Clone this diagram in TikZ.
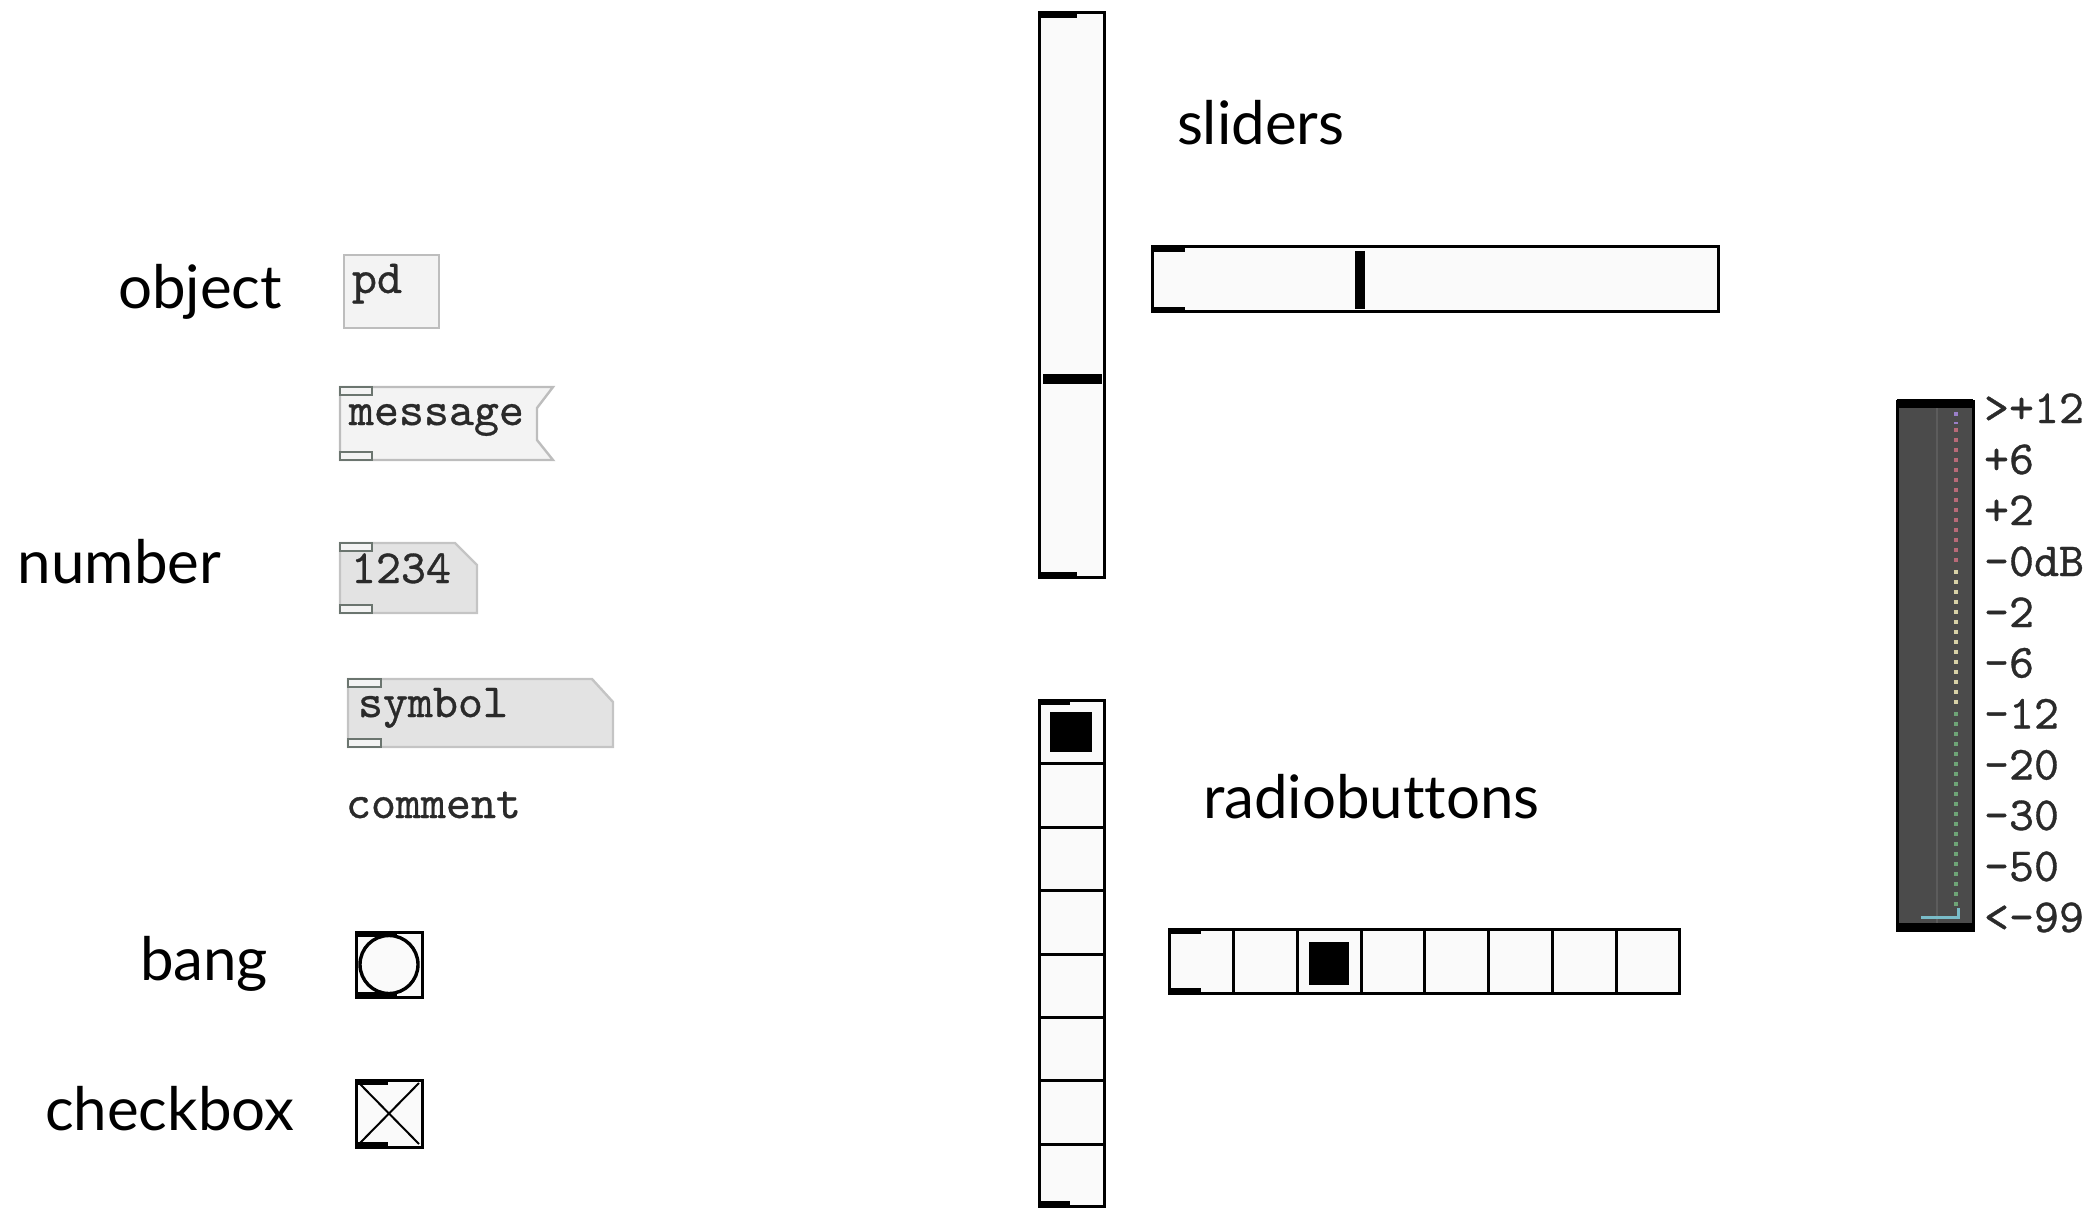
\documentclass[tikz,border=0pt]{standalone}
\usepackage{fontspec}
\newfontfamily\gillish[Ligatures={NoCommon}]{Lato}
\newfontfamily\pdfont[Extension=.otf, FakeBold=0.7]{lmmono10-regular}
\usepackage{xcolor}
\definecolor{objfill}{HTML}{F3F3F3}
\definecolor{objline}{HTML}{BDBDBD}
\definecolor{atomfill}{HTML}{E3E3E3}
\definecolor{atomline}{HTML}{C4C4C4}
\definecolor{ioline}{HTML}{6B756F}
\definecolor{guifill}{HTML}{FAFAFA}
\definecolor{pdink}{HTML}{2A2A2A}
\definecolor{vufill}{HTML}{4B4B4B}
\definecolor{vugrid}{HTML}{5C5C5C}
\definecolor{vupurple}{HTML}{9A7FC8}
\definecolor{vured}{HTML}{B86A78}
\definecolor{vuyellow}{HTML}{D8D2A8}
\definecolor{vugreen}{HTML}{6FA477}
\definecolor{vucyan}{HTML}{79BCC8}

\begin{document}
\begin{tikzpicture}[
    x=0.5pt,
    y=-0.5pt,
    every node/.style={inner sep=0pt, outer sep=0pt},
    caption/.style={font=\gillish\fontsize{30}{36}\selectfont, anchor=base west},
    pdtext/.style={font=\pdfont\fontsize{23.8}{28}\selectfont, text=pdink, anchor=base west},
    objbox/.style={draw=objline, line width=1.2pt, fill=objfill},
    atombox/.style={draw=atomline, line width=1.2pt, fill=atomfill},
    iolet/.style={draw=ioline, line width=1pt, fill=objfill},
    guibox/.style={draw=black, line width=1.5pt, fill=guifill},
    guimark/.style={draw=black, line width=2.6pt},
    handle/.style={draw=black, line width=5pt},
    vudots/.style={line width=2.2pt, dash pattern=on 2pt off 3pt}
]
    \useasboundingbox (0,0) rectangle (2091,1208);

    % captions
    \node[caption] (lobject) at (118,309) {object};
    \node[caption] (lnumber) at (18,583) {number};
    \node[caption] (lbang) at (140,980) {bang};
    \node[caption] (lcheck) at (45,1130) {checkbox};
    \node[caption] (lsliders) at (1177,145) {sliders};
    \node[caption] (lradio) at (1203,818) {radiobuttons};

    % pd boxes
    \draw[objbox] (344,255) rectangle (439,328);
    \node[pdtext] (tpd) at (352,293) {pd};

    \draw[objbox] (340,387) -- (553,387) -- (537,408) -- (537,440) -- (553,460) -- (340,460) -- cycle;
    \draw[iolet] (340,387) rectangle (372,395);
    \draw[iolet] (340,452) rectangle (372,460);
    \node[pdtext] (tmsg) at (349,425) {message};

    \draw[atombox] (340,543) -- (455,543) -- (477,565) -- (477,613) -- (340,613) -- cycle;
    \draw[iolet] (340,543) rectangle (372,551);
    \draw[iolet] (340,605) rectangle (372,613);
    \node[pdtext] (tnum) at (351,583) {1234};

    \draw[atombox] (348,679) -- (592,679) -- (613,702) -- (613,747) -- (348,747) -- cycle;
    \draw[iolet] (348,679) rectangle (381,687);
    \draw[iolet] (348,739) rectangle (381,747);
    \node[pdtext] (tsym) at (358,717) {symbol};

    \node[pdtext] (tcom) at (346,818) {comment};

    % bang and toggle
    \draw[guibox] (356,932) rectangle (422,997);
    \draw[black, line width=1.7pt] (389,964.5) circle (29);
    \draw[guimark] (356,934) -- (397,934) (356,995) -- (397,995);

    \draw[guibox] (356,1080) rectangle (422,1147);
    \draw[black, line width=1pt] (359,1083) -- (419,1144) (419,1083) -- (359,1144);
    \draw[guimark] (356,1082) -- (388,1082) (356,1145) -- (388,1145);

    % sliders
    \draw[guibox] (1039,13) rectangle (1104,577);
    \draw[guimark] (1039,15) -- (1077,15) (1039,575) -- (1077,575);
    \draw[handle] (1043,379) -- (1102,379);

    \draw[guibox] (1152,247) rectangle (1718,312);
    \draw[guimark] (1152,249) -- (1185,249) (1152,310) -- (1185,310);
    \draw[handle] (1360,251) -- (1360,309);

    % radios
    \draw[guibox] (1039,700) rectangle (1104,1206);
    \draw[black, line width=1.5pt] (1039,763.5) -- (1104,763.5) (1039,827) -- (1104,827)
        (1039,890) -- (1104,890) (1039,954) -- (1104,954) (1039,1017) -- (1104,1017)
        (1039,1080) -- (1104,1080) (1039,1144) -- (1104,1144);
    \fill[black] (1050,712) rectangle (1092,752);
    \draw[guimark] (1039,702) -- (1070,702) (1039,1204) -- (1070,1204);

    \draw[guibox] (1169,929) rectangle (1679,993);
    \draw[black, line width=1.5pt] (1233,929) -- (1233,993) (1297,929) -- (1297,993)
        (1361,929) -- (1361,993) (1424,929) -- (1424,993) (1488,929) -- (1488,993)
        (1552,929) -- (1552,993) (1616,929) -- (1616,993);
    \fill[black] (1309,942) rectangle (1349,985);
    \draw[guimark] (1169,931) -- (1201,931) (1169,991) -- (1201,991);

    % vu meter
    \fill[vufill] (1897,401) rectangle (1973,930);
    \draw[vugrid, line width=0.8pt] (1937,408) -- (1937,923);
    \draw[vupurple, vudots] (1956,412) -- (1956,424);
    \draw[vured, vudots] (1956,428) -- (1956,566);
    \draw[vuyellow, vudots] (1956,570) -- (1956,705);
    \draw[vugreen, vudots] (1956,712) -- (1956,910);
    \draw[vucyan, line width=1.5pt] (1921,917) -- (1958,917) -- (1958,908);
    \draw[black, line width=1.5pt] (1897,401) rectangle (1973,930);
    \fill[black] (1897,399) rectangle (1973,408);
    \fill[black] (1897,923) rectangle (1973,932);

    \node[pdtext] (vu12) at (1984,423) {>+12};
    \node[pdtext] (vu6) at (1984,474) {+6};
    \node[pdtext] (vu2) at (1984,525) {+2};
    \node[pdtext] (vu0) at (1984,576) {-0dB};
    \node[pdtext] (vum2) at (1984,627) {-2};
    \node[pdtext] (vum6) at (1984,677.5) {-6};
    \node[pdtext] (vum12) at (1984,728.5) {-12};
    \node[pdtext] (vum20) at (1984,779.5) {-20};
    \node[pdtext] (vum30) at (1984,830) {-30};
    \node[pdtext] (vum50) at (1984,881) {-50};
    \node[pdtext] (vum99) at (1984,932) {<-99};
\end{tikzpicture}
\end{document}
